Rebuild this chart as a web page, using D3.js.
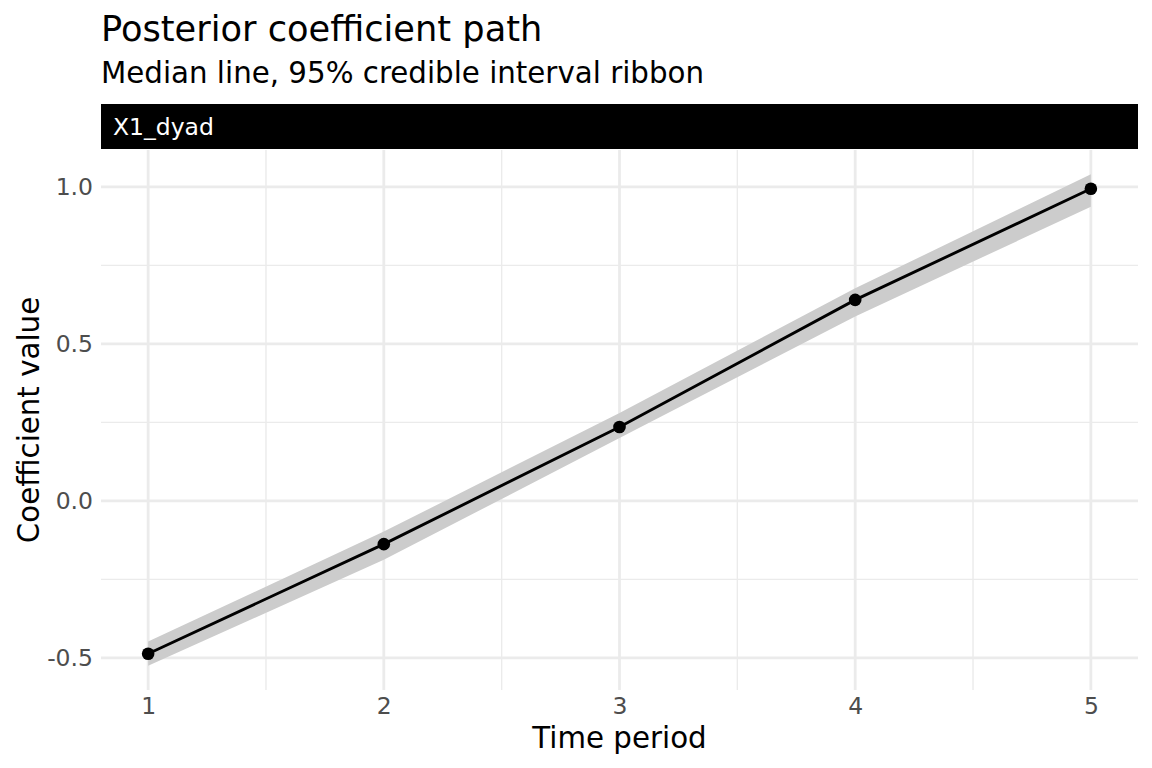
<!DOCTYPE html>
<html>
<head>
<meta charset="utf-8">
<script src="https://cdn.jsdelivr.net/npm/d3@7"></script>
<style>
  body { margin: 0; background: #fff; }
  svg { font-family: "DejaVu Sans", sans-serif; }
</style>
</head>
<body>
<svg id="chart" width="1152" height="768"></svg>
<script>
// --- Data ---
const periods = [1, 2, 3, 4, 5];
const medianValues = [-0.487, -0.138, 0.235, 0.640, 0.994];
const lowerValues = [-0.525, -0.188, 0.200, 0.587, 0.937];
const upperValues = [-0.448, -0.098, 0.280, 0.677, 1.040];
const xTicks = [1, 2, 3, 4, 5];
const yTicks = [-0.5, 0.0, 0.5, 1.0];
const stripLabel = "X1_dyad";

// --- Layout ---
const svg = d3.select("#chart");
const panel = { left: 101, right: 1138, top: 150, bottom: 690 };

const x = d3.scaleLinear().domain([0.8, 5.2]).range([panel.left, panel.right]);
const y = d3.scaleLinear().domain([-0.6025, 1.1175]).range([panel.bottom, panel.top]);

// --- Grid ---
const grid = svg.append("g");
const xMinor = [1.5, 2.5, 3.5, 4.5];
const yMinor = [-0.25, 0.25, 0.75];

grid.selectAll(".xminor").data(xMinor).enter().append("line")
  .attr("x1", d => x(d)).attr("x2", d => x(d))
  .attr("y1", panel.top).attr("y2", panel.bottom)
  .attr("stroke", "#ebebeb").attr("stroke-width", 1.4);
grid.selectAll(".yminor").data(yMinor).enter().append("line")
  .attr("x1", panel.left).attr("x2", panel.right)
  .attr("y1", d => y(d)).attr("y2", d => y(d))
  .attr("stroke", "#ebebeb").attr("stroke-width", 1.4);
grid.selectAll(".xmajor").data(xTicks).enter().append("line")
  .attr("x1", d => x(d)).attr("x2", d => x(d))
  .attr("y1", panel.top).attr("y2", panel.bottom)
  .attr("stroke", "#ebebeb").attr("stroke-width", 2.8);
grid.selectAll(".ymajor").data(yTicks).enter().append("line")
  .attr("x1", panel.left).attr("x2", panel.right)
  .attr("y1", d => y(d)).attr("y2", d => y(d))
  .attr("stroke", "#ebebeb").attr("stroke-width", 2.8);

// --- Ribbon, line, points ---
const rows = periods.map((p, i) => ({ p, med: medianValues[i], lo: lowerValues[i], hi: upperValues[i] }));

svg.append("path")
  .datum(rows)
  .attr("fill", "#cccccc")
  .attr("d", d3.area().x(d => x(d.p)).y0(d => y(d.lo)).y1(d => y(d.hi)));

svg.append("path")
  .datum(rows)
  .attr("fill", "none")
  .attr("stroke", "#000")
  .attr("stroke-width", 2.9)
  .attr("d", d3.line().x(d => x(d.p)).y(d => y(d.med)));

svg.selectAll(".pt").data(rows).enter().append("circle")
  .attr("cx", d => x(d.p)).attr("cy", d => y(d.med))
  .attr("r", 6.3).attr("fill", "#000");

// --- Axes (text only, like theme_minimal) ---
const xAxis = svg.append("g")
  .attr("transform", `translate(0,${panel.bottom})`)
  .call(d3.axisBottom(x).tickValues(xTicks).tickSize(0).tickPadding(7).tickFormat(d3.format("d")));
xAxis.select(".domain").remove();
xAxis.selectAll("text").attr("font-size", 23.5).attr("fill", "#4d4d4d").attr("font-family", "DejaVu Sans");

const yAxis = svg.append("g")
  .attr("transform", `translate(${panel.left},0)`)
  .call(d3.axisLeft(y).tickValues(yTicks).tickSize(0).tickPadding(8).tickFormat(d3.format(".1f")));
yAxis.select(".domain").remove();
yAxis.selectAll("text").attr("font-size", 23.5).attr("fill", "#4d4d4d").attr("font-family", "DejaVu Sans")
  .text(d => d3.format(".1f")(d).replace("−", "-"));

// --- Strip ---
svg.append("rect")
  .attr("x", panel.left).attr("y", 104)
  .attr("width", panel.right - panel.left).attr("height", 45)
  .attr("fill", "#000");
svg.append("text")
  .attr("x", 113).attr("y", 135)
  .attr("font-size", 23.5).attr("fill", "#fff")
  .text(stripLabel);

// --- Titles ---
svg.append("text")
  .attr("x", 101).attr("y", 41)
  .attr("font-size", 35.2).attr("fill", "#000")
  .text("Posterior coefficient path");
svg.append("text")
  .attr("x", 101).attr("y", 83)
  .attr("font-size", 29.3).attr("fill", "#000")
  .text("Median line, 95% credible interval ribbon");

svg.append("text")
  .attr("x", (panel.left + panel.right) / 2).attr("y", 748)
  .attr("text-anchor", "middle")
  .attr("font-size", 29.3).attr("fill", "#000")
  .text("Time period");

svg.append("text")
  .attr("transform", `translate(39,${(panel.top + panel.bottom) / 2}) rotate(-90)`)
  .attr("text-anchor", "middle")
  .attr("font-size", 29.3).attr("fill", "#000")
  .text("Coefficient value");
</script>
</body>
</html>
